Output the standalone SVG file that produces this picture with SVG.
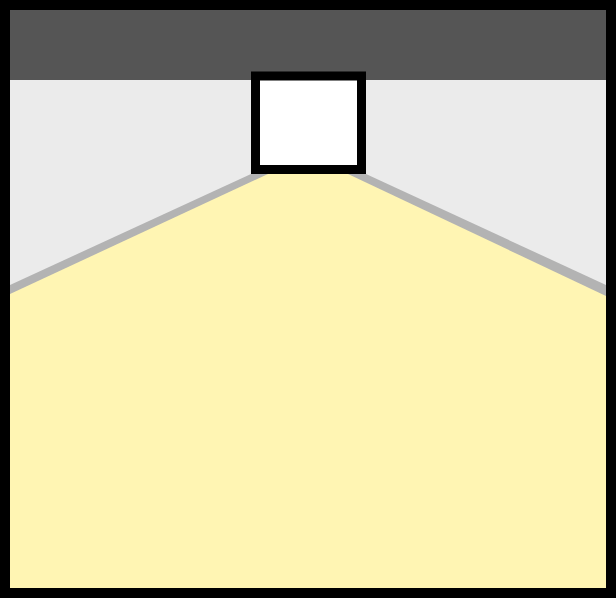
<svg xmlns="http://www.w3.org/2000/svg" width="616" height="598" viewBox="0 0 616 598">
  <rect x="0" y="0" width="616" height="598" fill="#000000"/>
  <rect id="wall" x="10" y="10" width="596" height="578" fill="#ebebeb"/>
  <rect id="ceiling" x="10" y="10" width="596" height="70" fill="#555555"/>
  <polygon id="beam-edge" points="251,174 366,174 606,285 606,588 10,588 10,285" fill="#b3b3b3"/>
  <polygon id="beam" points="268,174 348,174 606,296 606,588 10,588 10,294" fill="#fff5b3"/>
  <rect id="lamp" x="255.5" y="76" width="106" height="93.5" fill="#ffffff" stroke="#000000" stroke-width="9"/>
</svg>
